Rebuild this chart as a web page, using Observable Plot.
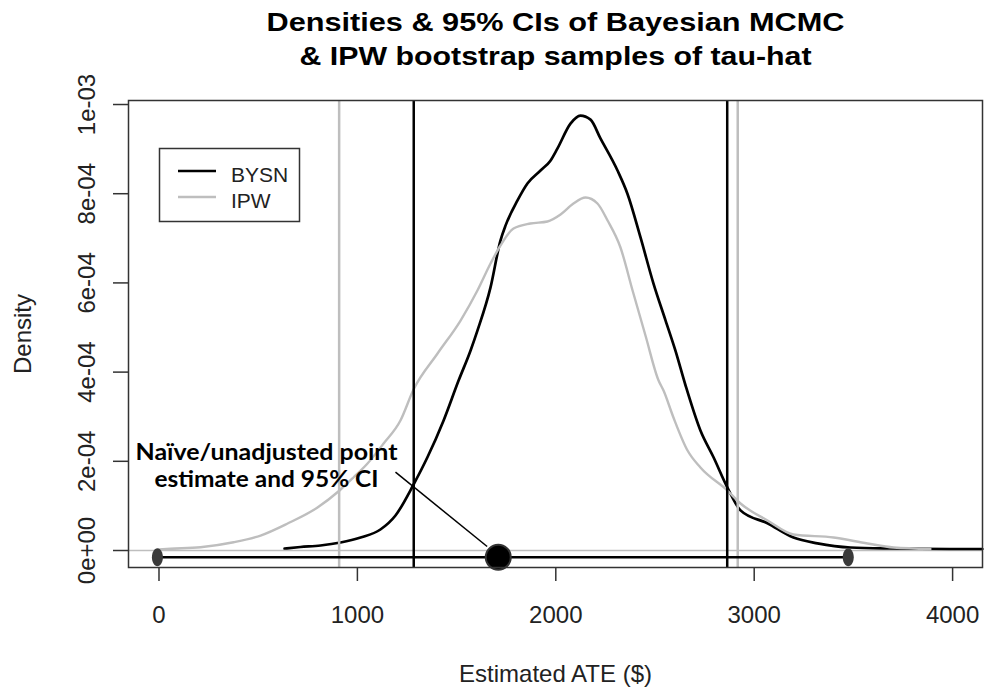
<!DOCTYPE html>
<html>
<head>
<meta charset="utf-8">
<script src="https://cdn.jsdelivr.net/npm/d3@7"></script>
<script src="https://cdn.jsdelivr.net/npm/@observablehq/plot@0.6"></script>
<style>
  html, body { margin: 0; padding: 0; background: white; }
</style>
</head>
<body>
<div id="chart"></div>
<script>
// ---- data ----
const bysnX = [633, 713, 814, 915, 1016, 1116, 1192, 1283, 1353, 1434, 1510, 1570, 1605, 1671, 1721, 1747, 1807, 1857, 1923, 1973, 2008, 2074, 2124, 2175, 2225, 2311, 2361, 2427, 2492, 2553, 2603, 2654, 2729, 2795, 2865, 2931, 3067, 3198, 3319, 3485, 3687, 3989, 4150];
const bysnY = [4.5e-6, 7.8e-6, 1.12e-5, 1.79e-5, 2.91e-5, 4.71e-5, 7.85e-5, 1.48e-4, 2.09e-4, 2.91e-4, 3.81e-4, 4.48e-4, 4.93e-4, 5.90e-4, 6.95e-4, 7.29e-4, 7.85e-4, 8.23e-4, 8.52e-4, 8.74e-4, 9.01e-4, 9.57e-4, 9.75e-4, 9.66e-4, 9.24e-4, 8.52e-4, 8.00e-4, 7.02e-4, 5.99e-4, 5.16e-4, 4.48e-4, 3.70e-4, 2.69e-4, 2.09e-4, 1.41e-4, 9.0e-5, 6.1e-5, 2.9e-5, 1.6e-5, 6.7e-6, 4.5e-6, 3.4e-6, 3.4e-6];

const ipwX = [0, 58, 209, 376, 512, 648, 799, 910, 980, 1051, 1132, 1217, 1283, 1404, 1520, 1605, 1671, 1721, 1787, 1872, 1958, 2024, 2089, 2150, 2210, 2261, 2326, 2387, 2452, 2518, 2543, 2593, 2664, 2729, 2865, 2931, 3067, 3198, 3400, 3571, 3702, 3888];
const ipwY = [2.2e-6, 3.8e-6, 7.4e-6, 1.86e-5, 3.36e-5, 6.05e-5, 9.64e-5, 1.345e-4, 1.637e-4, 1.951e-4, 2.399e-4, 2.915e-4, 3.61e-4, 4.417e-4, 5.157e-4, 5.83e-4, 6.435e-4, 6.839e-4, 7.22e-4, 7.332e-4, 7.377e-4, 7.534e-4, 7.78e-4, 7.915e-4, 7.78e-4, 7.399e-4, 6.794e-4, 5.83e-4, 4.821e-4, 3.812e-4, 3.587e-4, 2.982e-4, 2.242e-4, 1.861e-4, 1.345e-4, 1.054e-4, 6.73e-5, 3.59e-5, 2.91e-5, 1.57e-5, 6.7e-6, 3.4e-6];

const bysnCI = [1284, 2864];
const ipwCI = [908, 2917];
const naiveEstimate = 1710;
const naiveCI = [-8, 3474];
const naiveLevel = -1.5e-5;
const annotationLines = ["Naïve/unadjusted point", "estimate and 95% CI"];
const annotationAnchor = {x: 542, y: [2.04e-4, 1.435e-4]};
const pointerFrom = {x: 1192, y: 1.756e-4};
const pointerTo = {x: 1654, y: 9e-6};

const xTicks = [0, 1000, 2000, 3000, 4000];
const xTickLabels = ["0", "1000", "2000", "3000", "4000"];
const yTicks = [0, 2e-4, 4e-4, 6e-4, 8e-4, 1e-3];
const yTickLabels = ["0e+00", "2e-04", "4e-04", "6e-04", "8e-04", "1e-03"];
const seriesNames = ["BYSN", "IPW"];
const titleLines = ["Densities & 95% CIs of Bayesian MCMC", "& IPW bootstrap samples of tau-hat"];
const xLabel = "Estimated ATE ($)";
const yLabel = "Density";

// ---- tables ----
const bysn = bysnX.map((x, i) => ({x, y: bysnY[i]}));
const ipw = ipwX.map((x, i) => ({x, y: ipwY[i]}));
const GRAY = "#bebebe";
const FONT = "'Liberation Sans', Arial, sans-serif";

const ellipse = {
  draw(ctx) {
    const rx = 5.5, ry = 9, k = 0.5523;
    ctx.moveTo(rx, 0);
    ctx.bezierCurveTo(rx, ry * k, rx * k, ry, 0, ry);
    ctx.bezierCurveTo(-rx * k, ry, -rx, ry * k, -rx, 0);
    ctx.bezierCurveTo(-rx, -ry * k, -rx * k, -ry, 0, -ry);
    ctx.bezierCurveTo(rx * k, -ry, rx, -ry * k, rx, 0);
    ctx.closePath();
  }
};

const chart = Plot.plot({
  width: 984,
  height: 692,
  marginLeft: 128,
  marginRight: 2,
  marginTop: 100,
  marginBottom: 125,
  style: {background: "white", fontFamily: FONT, fontSize: "24px", color: "black"},
  x: {domain: [-153.7, 4150.7], axis: null},
  y: {domain: [-3.81e-5, 1.009e-3], axis: null},
  marks: [
    Plot.ruleY([0], {stroke: GRAY, strokeWidth: 1.5}),
    Plot.line(bysn, {x: "x", y: "y", stroke: "black", strokeWidth: 2.7, curve: "monotone-x"}),
    Plot.line(ipw, {x: "x", y: "y", stroke: GRAY, strokeWidth: 2.4, curve: "monotone-x"}),
    Plot.ruleX(ipwCI, {stroke: GRAY, strokeWidth: 2.5}),
    Plot.ruleX(bysnCI, {stroke: "black", strokeWidth: 2.5}),
    Plot.ruleY([naiveLevel], {x1: naiveCI[0], x2: naiveCI[1], stroke: "black", strokeWidth: 2.6}),
    Plot.link([0], {x1: () => pointerFrom.x, y1: () => pointerFrom.y, x2: () => pointerTo.x, y2: () => pointerTo.y, stroke: "black", strokeWidth: 1.5}),
    Plot.dot(naiveCI, {x: d => d, y: () => naiveLevel, symbol: ellipse, fill: "#3a3a3a", stroke: "none"}),
    Plot.dot([naiveEstimate], {x: d => d, y: () => naiveLevel, r: 12.5, fill: "black", stroke: "#333", strokeWidth: 2}),
    Plot.text(annotationLines, {x: () => annotationAnchor.x, y: (d, i) => annotationAnchor.y[i], text: d => d,
      fontFamily: "Lato, sans-serif", fontWeight: "bold", fontSize: 22, lineAnchor: "bottom", textAnchor: "middle", fill: "black"}),
    Plot.frame({stroke: "#333", strokeWidth: 1.5}),
    Plot.axisX({ticks: xTicks, tickSize: 14, tickPadding: 24, tickFormat: (d) => xTickLabels[xTicks.indexOf(d)], label: null, stroke: "#333", strokeWidth: 1.5, fill: "#222", fontSize: 24}),
    Plot.axisY({ticks: yTicks, tickSize: 15, tickFormat: () => "", label: null, stroke: "#333", strokeWidth: 1.5}),
    Plot.text(yTicks, {y: d => d, text: (d, i) => yTickLabels[i], frameAnchor: "left", dx: -34, rotate: -90, lineAnchor: "bottom", textAnchor: "middle", fontSize: 24, fill: "#222"}),
    Plot.text([yLabel], {frameAnchor: "left", dx: -98, rotate: -90, lineAnchor: "bottom", textAnchor: "middle", fontSize: 24, fill: "#222"}),
    Plot.text([xLabel], {frameAnchor: "bottom", dy: 114, lineAnchor: "bottom", textAnchor: "middle", fontSize: 24, fill: "#222"}),
    Plot.text([titleLines[0]], {frameAnchor: "top", dy: -70, lineAnchor: "bottom", textAnchor: "middle", fontSize: 25, fontWeight: "bold", fill: "black"}),
    Plot.text([titleLines[1]], {frameAnchor: "top", dy: -36, lineAnchor: "bottom", textAnchor: "middle", fontSize: 25, fontWeight: "bold", fill: "black"})
  ]
});

document.getElementById("chart").appendChild(chart);

// stretch texts to the reference widths
const svg = d3.select(chart);
const widths = new Map([
  [titleLines[0], 578], [titleLines[1], 512],
  [annotationLines[0], 262], [annotationLines[1], 224]
]);
svg.selectAll("text").each(function() {
  const t = this.textContent;
  if (widths.has(t)) {
    d3.select(this).attr("textLength", widths.get(t)).attr("lengthAdjust", "spacingAndGlyphs");
  }
});

// legend box (R legend())
const lg = svg.append("g").attr("text-anchor", "start");
lg.append("rect").attr("x", 159.5).attr("y", 148.5).attr("width", 140).attr("height", 73)
  .attr("fill", "white").attr("stroke", "#333").attr("stroke-width", 1.5);
const legendColors = ["black", GRAY];
const legendRows = [171, 197];
seriesNames.forEach((name, i) => {
  lg.append("line").attr("x1", 178).attr("x2", 216).attr("y1", legendRows[i]).attr("y2", legendRows[i])
    .attr("stroke", legendColors[i]).attr("stroke-width", 2.6);
  lg.append("text").attr("x", 231).attr("y", legendRows[i] + 11).text(name)
    .attr("text-anchor", "start")
    .attr("font-family", FONT).attr("font-size", 21).attr("fill", "#222");
});
</script>
</body>
</html>
